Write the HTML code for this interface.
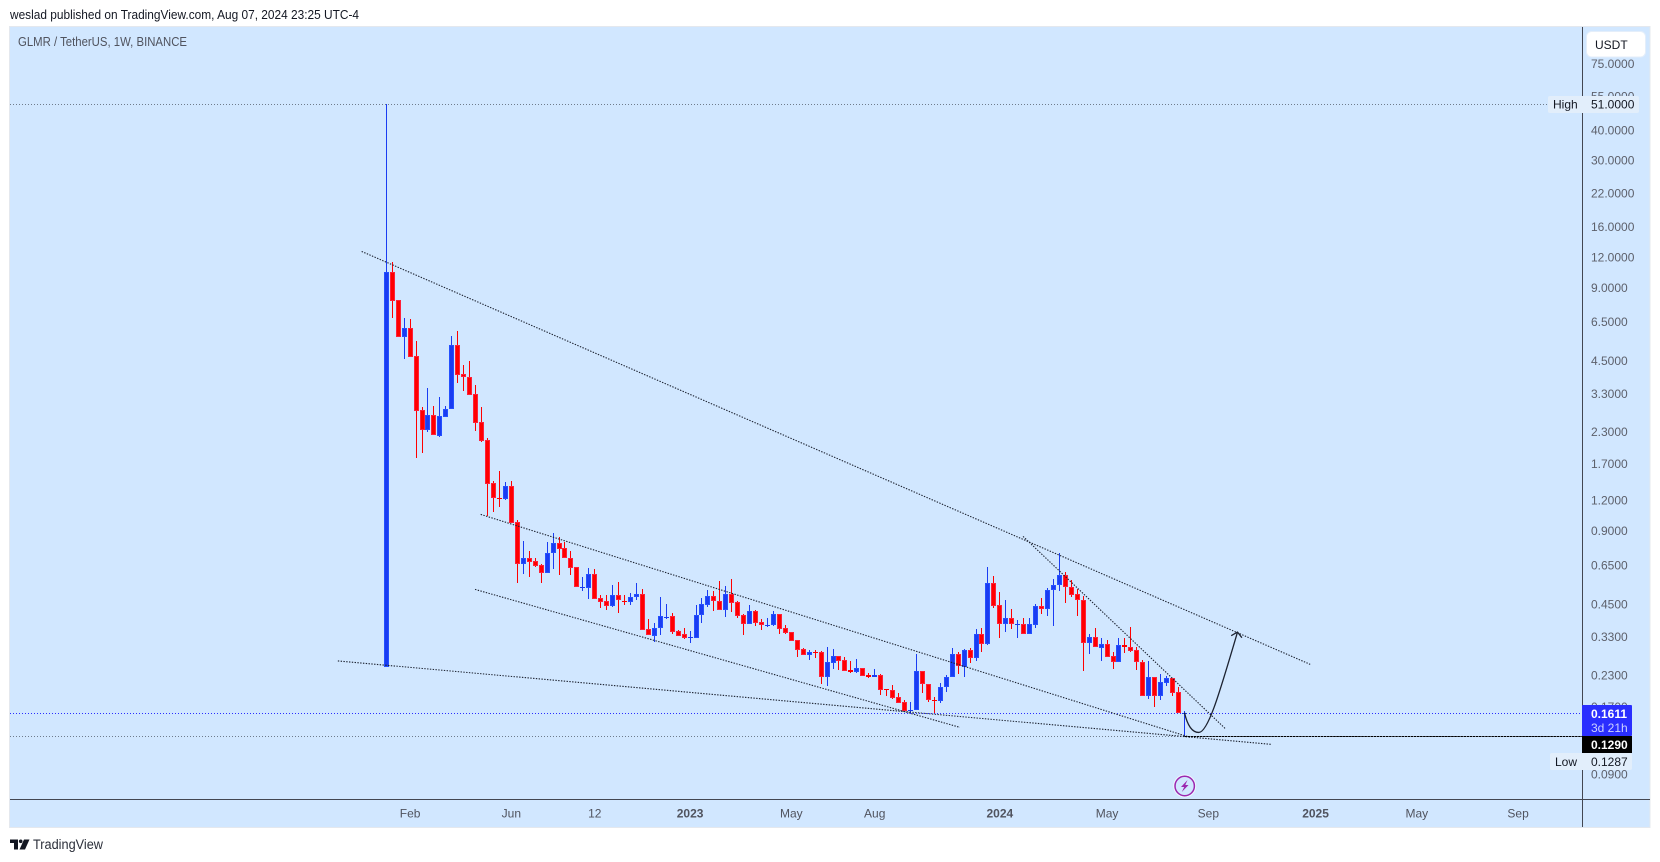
<!DOCTYPE html>
<html lang="en">
<head>
<meta charset="utf-8">
<title>GLMR / TetherUS chart</title>
<style>
html,body{margin:0;padding:0;background:#fff;width:1660px;height:862px;overflow:hidden}
svg{display:block;font-family:"Liberation Sans",sans-serif}
</style>
</head>
<body>
<svg id="chart" xmlns="http://www.w3.org/2000/svg" width="1660" height="862" viewBox="0 0 1660 862">
  <rect x="0" y="0" width="1660" height="862" fill="#ffffff"/>
  <text x="10" y="19" font-size="13" fill="#131722" textLength="349" lengthAdjust="spacingAndGlyphs">weslad published on TradingView.com, Aug 07, 2024 23:25 UTC-4</text>
  <rect x="9.5" y="26.5" width="1640.5" height="801" fill="#d1e7ff" stroke="#e4e8ee" stroke-width="1"/>
  <text x="18" y="46" font-size="12.5" fill="#50535e" textLength="169" lengthAdjust="spacingAndGlyphs">GLMR / TetherUS, 1W, BINANCE</text>
  <g id="hlines"></g>
  <g id="candles"></g>
  <g id="drawings"></g>
  <line x1="1582.5" y1="27" x2="1582.5" y2="827" stroke="#434651" stroke-width="1"/>
  <line x1="10" y1="799.5" x2="1650" y2="799.5" stroke="#434651" stroke-width="1"/>
  <g id="price-ticks"></g>
  <g id="time-ticks"></g>

  <g>
    <rect x="1586.5" y="31.5" width="59" height="25.5" rx="5" fill="#ffffff" stroke="#e4eefa"/>
    <text x="1595" y="49" font-size="12" fill="#131722">USDT</text>
  </g>

  <g>
    <rect x="1548" y="96" width="91" height="17" rx="2" fill="#e2eefb"/>
    <text x="1553" y="108.5" font-size="12" fill="#131722">High</text>
    <text x="1591" y="108.5" font-size="12" fill="#131722">51.0000</text>
  </g>
  <g>
    <rect x="1582" y="705" width="50" height="31" rx="1" fill="#2a2eff"/>
    <text x="1591" y="718" font-size="12" font-weight="700" fill="#ffffff">0.1611</text>
    <text x="1591" y="732" font-size="12" fill="#cdd2ff">3d 21h</text>
  </g>
  <g>
    <rect x="1582" y="736" width="50" height="17" fill="#000000"/>
    <text x="1591" y="749" font-size="12" font-weight="700" fill="#ffffff">0.1290</text>
  </g>
  <g>
    <rect x="1550" y="753" width="82" height="17" rx="2" fill="#e2eefb"/>
    <text x="1555" y="766" font-size="12" fill="#131722">Low</text>
    <text x="1591" y="766" font-size="12" fill="#131722">0.1287</text>
  </g>

  <g>
    <circle cx="1184.7" cy="786" r="11.5" fill="#eef5ff"/>
    <circle cx="1184.7" cy="786" r="9.7" fill="#d1e7ff" stroke="#9c27b0" stroke-width="1.5"/>
    <polygon points="1187.5,780 1181,787 1184.2,787 1181.8,792 1188.5,785 1185.3,785" fill="#9c27b0"/>
  </g>

  <g>
    <polygon points="10,839.5 18,839.5 18,849.5 14,849.5 14,843 10,843" fill="#131722"/>
    <circle cx="20.7" cy="841.3" r="1.8" fill="#131722"/>
    <polygon points="24,839.5 29.5,839.5 25,849.5 19.5,849.5" fill="#131722"/>
    <text x="33" y="849" font-size="13.5" fill="#2a2e39" textLength="70" lengthAdjust="spacingAndGlyphs">TradingView</text>
  </g>
</svg>

<script>
// ---- OHLC series, weekly bars (prices in USDT) ----
const opens = [
.2474,10.40,7.978,5.621,6.120,4.696,2.817,2.331,2.687,2.202,
2.636,2.843,5.211,3.960,3.849,3.277,2.514,2.120,1.411,1.225,
1.213,1.372,.9756,.6556,.6939,.6745,.6494,.6020,.7275,.7998,
.7628,.6939,.6373,.5258,.5224,.5964,.4752,.4619,.4406,.4889,
.4619,.4576,.4797,.4936,.3544,.3332,.3578,.3970,.4008,.3477,
.3380,.3285,.3254,.4046,.4447,.4843,.4619,.4242,.4936,.4576,
.4046,.3715,.4202,.3787,.3681,.3681,.4085,.3578,.3445,.3193,
.2932,.2771,.2850,.2850,.2250,.2569,.2745,.2643,.2404,.2359,
.2450,.2293,.2250,.2293,.2009,.1989,.1862,.1776,.1631,.1646,
.2382,.2106,.1810,.1793,.2047,.2250,.2797,.2474,.2905,.2693,
.3380,.3074,.5477,.4447,.3715,.3933,.3715,.3715,.3380,.3681,
.4406,.4282,.5126,.5375,.5908,.5274,.4936,.4663,.3104,.3285,
.2960,.3074,.2745,.2593,.3046,.2988,.2905,.2593,.1880,.2250,
.1880,.2126,.2229,.1952,.1597];
const closes = [
10.40,7.903,5.621,6.120,4.652,2.790,2.331,2.687,2.223,2.661,
2.843,5.211,3.923,3.849,3.247,2.490,2.100,1.398,1.225,1.219,
1.372,.9664,.6556,.6939,.6681,.6433,.6020,.7275,.7998,.7556,
.6939,.6312,.5274,.5274,.5964,.4707,.4576,.4406,.4889,.4663,
.4597,.4797,.4936,.3510,.3348,.3578,.4008,.3989,.3445,.3316,
.3254,.3290,.4046,.4490,.4843,.4619,.4242,.4936,.4532,.4008,
.3715,.4202,.3751,.3681,.3695,.4085,.3544,.3412,.3163,.2905,
.2771,.2850,.2837,.2250,.2593,.2745,.2618,.2382,.2359,.2450,
.2272,.2250,.2293,.1989,.1999,.1845,.1759,.1631,.1654,.2382,
.2106,.1810,.1802,.2047,.2250,.2797,.2497,.2905,.2693,.3380,
.3074,.5477,.4406,.3715,.3933,.3715,.3733,.3380,.3715,.4406,
.4282,.5126,.5375,.5908,.5274,.4889,.4663,.3104,.3285,.2988,
.3074,.2719,.2593,.3046,.2988,.2878,.2593,.1880,.2250,.1880,
.2146,.2229,.1934,.1600,.1611];
const highs = [
51.0,11.43,7.978,6.728,6.664,5.412,2.897,3.468,2.925,3.186,
2.925,5.674,5.949,4.312,4.479,3.568,2.897,2.161,1.438,1.581,
1.425,1.438,.9943,.8151,.7414,.6939,.6556,.8074,.8792,.8465,
.8074,.7414,.6373,.5797,.6312,.6253,.4889,.4889,.5375,.5529,
.4889,.4982,.5477,.5175,.3896,.3751,.4797,.4490,.4123,.3510,
.3578,.3477,.4447,.4752,.5126,.5078,.5582,.5324,.5688,.4619,
.4085,.4447,.4242,.3896,.3933,.4202,.4085,.3681,.3445,.3193,
.2960,.2905,.2905,.2878,.2988,.2932,.2745,.2719,.2618,.2668,
.2450,.2337,.2427,.2315,.2009,.2086,.1934,.1810,.1776,.2797,
.2382,.2106,.1862,.2126,.2293,.2960,.2850,.2932,.2960,.3544,
.3578,.6373,.5852,.5030,.4663,.4282,.3859,.3933,.3933,.4490,
.4752,.5224,.5688,.7275,.6078,.5635,.5175,.4843,.3380,.3578,
.3254,.3193,.2850,.3254,.3254,.3612,.2988,.2643,.2618,.2250,
.2315,.2272,.2229,.2047,.1631];
const lows = [
.2474,6.728,5.621,4.565,4.652,1.788,1.875,2.287,2.223,2.181,
2.636,2.843,3.636,3.372,3.247,2.309,2.080,1.033,1.072,1.124,
1.2015,.9664,.5477,.5964,.5797,.6373,.5477,.6020,.6253,.5908,
.6939,.5908,.5274,.5078,.4707,.4707,.4323,.4242,.4364,.4123,
.4447,.4447,.4663,.3510,.3348,.3133,.3348,.3896,.3380,.3316,
.3224,.3104,.3254,.3751,.4364,.4202,.4242,.3970,.4162,.3933,
.3348,.3715,.3646,.3510,.3612,.3646,.3380,.3380,.3163,.2719,
.2771,.2643,.2693,.2106,.2066,.2427,.2404,.2382,.2337,.2337,
.2272,.2229,.2250,.1898,.1880,.1827,.1759,.1615,.1600,.1646,
.1934,.1776,.1600,.1759,.1952,.2250,.2315,.2250,.2569,.2618,
.2850,.3046,.4323,.3254,.3445,.3544,.3254,.3380,.3380,.3578,
.4085,.4008,.3646,.5078,.4532,.4797,.4008,.2382,.2797,.2988,
.2618,.2719,.2427,.2593,.2824,.2850,.2404,.1880,.1827,.1694,
.1810,.2066,.1880,.1600,.1287];

// ---- axis tick labels ----
const priceTicks = [75,55,40,30,22,16,12,9,6.5,4.5,3.3,2.3,1.7,1.2,0.9,0.65,0.45,0.33,0.23,0.17,0.09];
const timeTickBars = [4,21,35,51,68,82,103,121,138,156,173,190];
const timeTickLabels = ["Feb","Jun","12","2023","May","Aug","2024","May","Sep","2025","May","Sep"];
const timeTickBold = [0,0,0,1,0,0,1,0,0,1,0,0];

// ---- reference levels (price) ----
const highPrice = 51.0;
const lowPrice = 0.1287;
const lastPrice = 0.1611;
const drawnLevel = 0.1290;

// ---- trend drawings (bar index / price) ----
const trendStartBars = [-4.13,15.85,14.9,-8.13,106.9];
const trendStartPrices = [12.68,1.0524,.5175,.2630,.8546];
const trendEndBars = [155.1,134.96,96.3,148.7,140.8];
const trendEndPrices = [.2545,.1275,.1402,.1193,.1389];

// ---- forecast arrow path (bar index / price) ----
const arrowBars = [134,134.6,135.5,136.4,138,140,142.9];
const arrowPrices = [.1611,.1389,.1336,.1336,.1336,.1989,.3455];

// ---- axis functions ----
function priceY(p){ return 104.4 + 105.65 * Math.log(51 / p); }
function barX(i){ return 386.27 + 5.9569 * i; }

const NS = "http://www.w3.org/2000/svg";
function make(tag, attrs, parent){
  const el = document.createElementNS(NS, tag);
  for (const k in attrs) el.setAttribute(k, attrs[k]);
  parent.appendChild(el);
  return el;
}

// horizontal price lines
const hl = document.getElementById("hlines");
const highLine = make("line",{x1:10,x2:1548,y1:Math.round(priceY(highPrice))+.5,y2:Math.round(priceY(highPrice))+.5,stroke:"#6f7c8c","stroke-width":1,"stroke-dasharray":"1 2"},hl);


const lowLine = make("line",{x1:10,x2:1582,y1:Math.round(priceY(lowPrice))+.5,y2:Math.round(priceY(lowPrice))+.5,stroke:"#6f7c8c","stroke-width":1,"stroke-dasharray":"1 2"},hl);


const lastLine = make("line",{x1:10,x2:1582,y1:Math.round(priceY(lastPrice))+.5,y2:Math.round(priceY(lastPrice))+.5,stroke:"#2a2eff","stroke-width":1,"stroke-dasharray":"1 2"},hl);



// candles
const cg = document.getElementById("candles");
opens.forEach(function(o, i){
  const c = closes[i];
  const up = c >= o;
  const fill = up ? "#1a3cf2" : "#ff0000";
  const edge = up ? "#2450ff" : "#ff2038";
  const wickColor = up ? "#1a3cf2" : "#ff0000";
  const col = Math.floor(barX(i));
  const hy = Math.round(priceY(highs[i]));
  const ly = Math.round(priceY(lows[i]));
  const top = Math.round(priceY(Math.max(o, c)));
  const bot = Math.round(priceY(Math.min(o, c)));
  const h = Math.max(1, bot - top);
  const wick = make("rect",{x:col,y:hy,width:1,height:Math.max(1,ly-hy),fill:wickColor},cg);
  
  
  const body = make("rect",{x:col-2,y:top,width:5,height:h,fill:h>=3?edge:fill},cg);
  
  
  if (h >= 3) {
    const core = make("rect",{x:col-1,y:top+1,width:3,height:h-2,fill:fill},cg);
    
    
  }
});

// trend lines
const dg = document.getElementById("drawings");
trendStartBars.forEach(function(b, i){
  const t = make("line",{x1:barX(b),y1:priceY(trendStartPrices[i]),x2:barX(trendEndBars[i]),y2:priceY(trendEndPrices[i]),stroke:"#1c2230","stroke-width":1.1,"stroke-dasharray":"1.4 1.4"},dg);
  
  
});

// horizontal drawn level
const levelY = Math.round(priceY(drawnLevel)) + .5;
const levelLine = make("line",{x1:barX(134),y1:levelY,x2:1582,y2:levelY,stroke:"#000000","stroke-width":1,"stroke-dasharray":"2.5 .6"},dg);



// forecast arrow
const ax = arrowBars.map(barX);
const ay = arrowPrices.map(priceY);
const curve = make("path",{d:"M"+ax[0]+","+ay[0]+" C"+ax[1]+","+ay[1]+" "+ax[2]+","+ay[2]+" "+ax[3]+","+ay[3]+" C"+ax[4]+","+ay[4]+" "+ax[5]+","+ay[5]+" "+ax[6]+","+ay[6],fill:"none",stroke:"#1c2230","stroke-width":1.3},dg);


const head = make("path",{d:"M"+(ax[6]-6.3)+","+(ay[6]+3.6)+" L"+ax[6]+","+ay[6]+" L"+(ax[6]+4.4)+","+(ay[6]+5.6),fill:"none",stroke:"#1c2230","stroke-width":1.3},dg);



// price axis labels
const pg = document.getElementById("price-ticks");
priceTicks.forEach(function(p){
  const t = make("text",{x:1591,y:priceY(p)+4.2,"font-size":12,fill:"#5d606b"},pg);
  t.textContent = p.toFixed(4);
  
  
});

// time axis labels
const tg = document.getElementById("time-ticks");
timeTickBars.forEach(function(b, i){
  const t = make("text",{x:barX(b),y:817.5,"font-size":12,"text-anchor":"middle",fill:"#50535e","font-weight":timeTickBold[i]?700:400},tg);
  t.textContent = timeTickLabels[i];
  
  
});
</script>
</body>
</html>
